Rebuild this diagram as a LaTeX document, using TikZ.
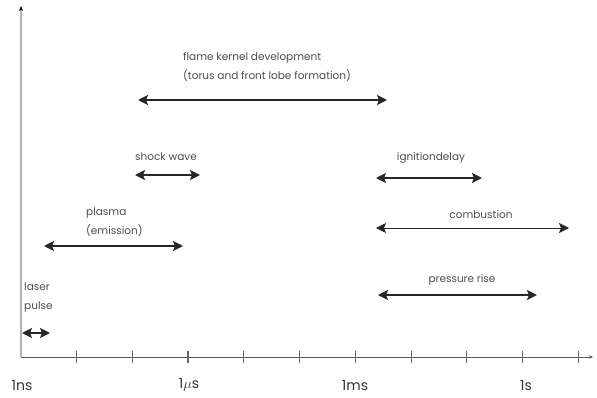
\documentclass[tikz,border=0pt]{standalone}
\usepackage{fontspec}
\setmainfont{Poppins}
\usetikzlibrary{arrows.meta, positioning}

\begin{document}
\begin{tikzpicture}[
        x=1pt, y=-1pt,
        span/.style={{Stealth[length=10pt,width=10pt,inset=2pt]}-{Stealth[length=10pt,width=10pt,inset=2pt]}, line width=1.8pt, draw=black!85},
        thinspan/.style={span, line width=1pt},
        phase/.style={font=\fontsize{10.5}{19}\selectfont, text=black!70, inner sep=0pt, align=left},
        decade/.style={font=\fontsize{14}{16}\selectfont, text=black!80, inner sep=0pt},
        tick/.style={draw=black!60, line width=0.8pt},
        major/.style={tick, line width=1.3pt}
    ]
    \useasboundingbox (0,0) rectangle (597,397);
    % axes
    \coordinate (origin) at (21,357);
    \coordinate (xend) at (593,357);
    \coordinate (yend) at (21,6);
    \draw[black!65, line width=0.8pt, -{Stealth[length=4pt,width=3.5pt]}] (origin) -- (xend);
    \draw[black!30, line width=1.2pt, -{Stealth[length=5pt,width=4pt,black]}] (origin) -- (yend);
    \foreach \k in {1,2,4,5,7,8,10}
        \draw[tick] ({21+55.7*\k},351) -- ({21+55.7*\k},363);
    \foreach \k in {3,6,9}
        \draw[major] ({21+55.7*\k},351) -- ({21+55.7*\k},363);

    % decades
    \node[decade] (ns) at (22,385) {1ns};
    \node[decade] (us) at (189,385) {1$\mu$s};
    \node[decade] (ms) at (355,385) {1ms};
    \node[decade] (s)  at (526,385) {1s};

    % time spans
    \coordinate (laserL) at (22,333);   \coordinate (laserR) at (50,333);
    \coordinate (plasmaL) at (44,246);  \coordinate (plasmaR) at (183,246);
    \coordinate (shockL) at (135,175);  \coordinate (shockR) at (200,175);
    \coordinate (flameL) at (138,100);  \coordinate (flameR) at (387,100);
    \coordinate (igniL) at (376,178);   \coordinate (igniR) at (482,178);
    \coordinate (combL) at (376,228);   \coordinate (combR) at (569,228);
    \coordinate (pressL) at (378,295);  \coordinate (pressR) at (537,295);

    \draw[span] (laserL) -- (laserR);
    \draw[span] (plasmaL) -- (plasmaR);
    \draw[span] (shockL) -- (shockR);
    \draw[span] (flameL) -- (flameR);
    \draw[span] (igniL) -- (igniR);
    \draw[thinspan] (combL) -- (combR);
    \draw[span] (pressL) -- (pressR);

    % labels
    \node[phase, anchor=south west] (laser) at (24,312) {laser\\pulse};
    \node[phase, anchor=south west] (plasma) at (86,237) {plasma\\(emission)};
    \node[phase, anchor=south west] (shock) at (135,161) {shock wave};
    \node[phase, anchor=south west] (flame) at (183,82) {flame kernel development\\(torus and front lobe formation)};
    \node[phase, anchor=south] (igni) at (431,164) {ignitiondelay};
    \node[phase, anchor=south] (comb) at (481,219) {combustion};
    \node[phase, anchor=south] (press) at (462,285) {pressure rise};
\end{tikzpicture}
\end{document}
